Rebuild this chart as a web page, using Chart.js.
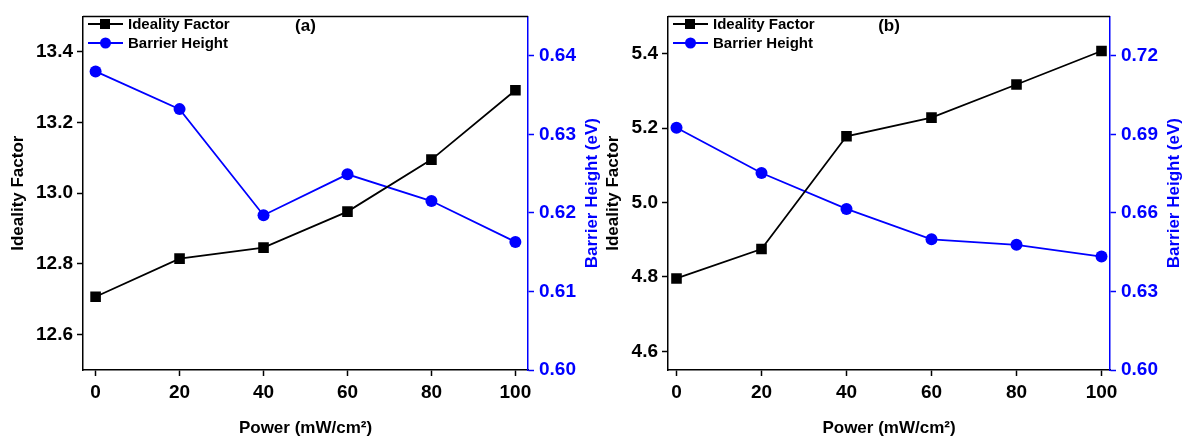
<!DOCTYPE html>
<html>
<head>
<meta charset="utf-8">
<title>Ideality factor and barrier height vs. power</title>
<script src="https://cdn.jsdelivr.net/npm/chart.js@4.4.1/dist/chart.umd.min.js"></script>
<style>
    html, body { margin: 0; padding: 0; background: #fff; }
    canvas { position: absolute; top: 0; }
    #chartA { left: 0; }
    #chartB { left: 603px; }
</style>
</head>
<body>
<canvas id="chartA" width="603" height="439"></canvas>
<canvas id="chartB" width="583" height="439"></canvas>
<script>
// power density in mW/cm2
const power = [0, 20, 40, 60, 80, 100];

// panel (a)
const idealityA = [12.707, 12.815, 12.846, 12.948, 13.095, 13.291];
const barrierA = [0.638, 0.6332, 0.6197, 0.6249, 0.6215, 0.6163];

// panel (b)
const idealityB = [4.796, 4.875, 5.178, 5.228, 5.317, 5.407];
const barrierB = [0.6925, 0.6752, 0.6615, 0.6499, 0.6478, 0.6433];

const powerTicks = [0, 20, 40, 60, 80, 100];
const idealityTicksA = [12.6, 12.8, 13.0, 13.2, 13.4];
const barrierTicksA = [0.60, 0.61, 0.62, 0.63, 0.64];
const idealityTicksB = [4.6, 4.8, 5.0, 5.2, 5.4];
const barrierTicksB = [0.60, 0.63, 0.66, 0.69, 0.72];

const BLUE = '#0000ff';
const FONT = '"Liberation Sans", Arial, sans-serif';

function xy(xs, ys) {
    return xs.map((x, i) => ({ x: x, y: ys[i] }));
}

// frame top line, panel tag, right-hand title and the in-plot legend
const panelDecor = {
    id: 'panelDecor',
    afterDraw(chart, args, opts) {
        const ctx = chart.ctx;
        const area = chart.chartArea;
        ctx.save();

        ctx.strokeStyle = '#000';
        ctx.lineWidth = 1.5;
        ctx.beginPath();
        ctx.moveTo(area.left, area.top);
        ctx.lineTo(area.right, area.top);
        ctx.stroke();

        ctx.fillStyle = '#000';
        ctx.font = 'bold 17px ' + FONT;
        ctx.textAlign = 'center';
        ctx.textBaseline = 'middle';
        ctx.fillText(opts.tag, (area.left + area.right) / 2, 26);

        ctx.save();
        ctx.translate(opts.rightTitleX, (area.top + area.bottom) / 2);
        ctx.rotate(-Math.PI / 2);
        ctx.fillStyle = BLUE;
        ctx.fillText('Barrier Height (eV)', 0, 0);
        ctx.restore();

        ctx.font = 'bold 15px ' + FONT;
        ctx.textAlign = 'left';
        chart.data.datasets.forEach((ds, i) => {
            const y = 24 + i * 19;
            const x0 = area.left + 5;
            ctx.strokeStyle = ds.borderColor;
            ctx.lineWidth = 1.8;
            ctx.beginPath();
            ctx.moveTo(x0, y);
            ctx.lineTo(x0 + 35, y);
            ctx.stroke();
            ctx.fillStyle = ds.borderColor;
            ctx.beginPath();
            if (ds.pointStyle === 'rect') {
                ctx.rect(x0 + 12, y - 5, 10, 10);
            } else {
                ctx.arc(x0 + 17.5, y, 5.5, 0, Math.PI * 2);
            }
            ctx.fill();
            ctx.fillStyle = '#000';
            ctx.fillText(ds.label, x0 + 40, y + 1);
        });
        ctx.restore();
    }
};

function buildPanel(id, p) {
    const ctx = document.getElementById(id).getContext('2d');
    return new Chart(ctx, {
        type: 'line',
        data: {
            datasets: [{
                label: 'Ideality Factor',
                data: xy(power, p.ideality),
                yAxisID: 'y',
                borderColor: '#000',
                backgroundColor: '#000',
                borderWidth: 1.8,
                pointStyle: 'rect',
                pointRadius: 7.5,
                pointBorderWidth: 0,
                fill: false
            }, {
                label: 'Barrier Height',
                data: xy(power, p.barrier),
                yAxisID: 'y1',
                borderColor: BLUE,
                backgroundColor: BLUE,
                borderWidth: 1.8,
                pointStyle: 'circle',
                pointRadius: 6,
                pointBorderWidth: 0,
                fill: false
            }]
        },
        options: {
            responsive: false,
            animation: false,
            layout: { padding: { top: 11, left: 0, right: 0, bottom: 0 } },
            plugins: {
                legend: { display: false },
                tooltip: { enabled: false },
                panelDecor: { tag: p.tag, rightTitleX: p.rightTitleX }
            },
            scales: {
                x: {
                    type: 'linear',
                    min: p.xMin,
                    max: p.xMax,
                    afterFit: s => { s.height = 69; },
                    afterBuildTicks: s => { s.ticks = powerTicks.map(v => ({ value: v })); },
                    border: { color: '#000', width: 1.5 },
                    grid: { drawOnChartArea: false, color: '#000', tickLength: 6, tickWidth: 1.5 },
                    ticks: { color: '#000', padding: 5, font: { family: FONT, size: 19, weight: 'bold' } },
                    title: {
                        display: true,
                        text: 'Power (mW/cm\u00b2)',
                        color: '#000',
                        padding: { top: 0, bottom: 0 },
                        font: { family: FONT, size: 17, weight: 'bold' }
                    }
                },
                y: {
                    position: 'left',
                    min: p.yMin,
                    max: p.yMax,
                    afterFit: s => { s.width = p.leftWidth; },
                    afterBuildTicks: s => { s.ticks = p.idealityTicks.map(v => ({ value: v })); },
                    border: { color: '#000', width: 1.5 },
                    grid: { drawOnChartArea: false, color: '#000', tickLength: 6, tickWidth: 1.5 },
                    ticks: {
                        color: '#000',
                        padding: 4,
                        autoSkip: false,
                        font: { family: FONT, size: 19, weight: 'bold' },
                        callback: v => v.toFixed(1)
                    },
                    title: {
                        display: true,
                        text: 'Ideality Factor',
                        color: '#000',
                        padding: { top: p.leftTitlePad, bottom: 0 },
                        font: { family: FONT, size: 17, weight: 'bold' }
                    }
                },
                y1: {
                    position: 'right',
                    min: p.y1Min,
                    max: p.y1Max,
                    afterFit: s => { s.width = p.rightWidth; },
                    afterBuildTicks: s => { s.ticks = p.barrierTicks.map(v => ({ value: v })); },
                    border: { color: BLUE, width: 1.5 },
                    grid: { drawOnChartArea: false, color: BLUE, tickLength: 6, tickWidth: 1.5 },
                    ticks: {
                        color: BLUE,
                        padding: 5,
                        autoSkip: false,
                        font: { family: FONT, size: 19, weight: 'bold' },
                        callback: v => v.toFixed(2)
                    }
                }
            }
        },
        plugins: [panelDecor]
    });
}

document.addEventListener('DOMContentLoaded', function() {
    buildPanel('chartA', {
        tag: '(a)',
        ideality: idealityA,
        barrier: barrierA,
        idealityTicks: idealityTicksA,
        barrierTicks: barrierTicksA,
        xMin: -3, xMax: 103,
        yMin: 12.5, yMax: 13.5,
        y1Min: 0.60, y1Max: 0.645,
        leftWidth: 83, rightWidth: 75,
        leftTitlePad: 8,
        rightTitleX: 592
    });

    buildPanel('chartB', {
        tag: '(b)',
        ideality: idealityB,
        barrier: barrierB,
        idealityTicks: idealityTicksB,
        barrierTicks: barrierTicksB,
        xMin: -2, xMax: 102,
        yMin: 4.55, yMax: 5.5,
        y1Min: 0.60, y1Max: 0.735,
        leftWidth: 65, rightWidth: 76,
        leftTitlePad: 0,
        rightTitleX: 571
    });
});
</script>
</body>
</html>
